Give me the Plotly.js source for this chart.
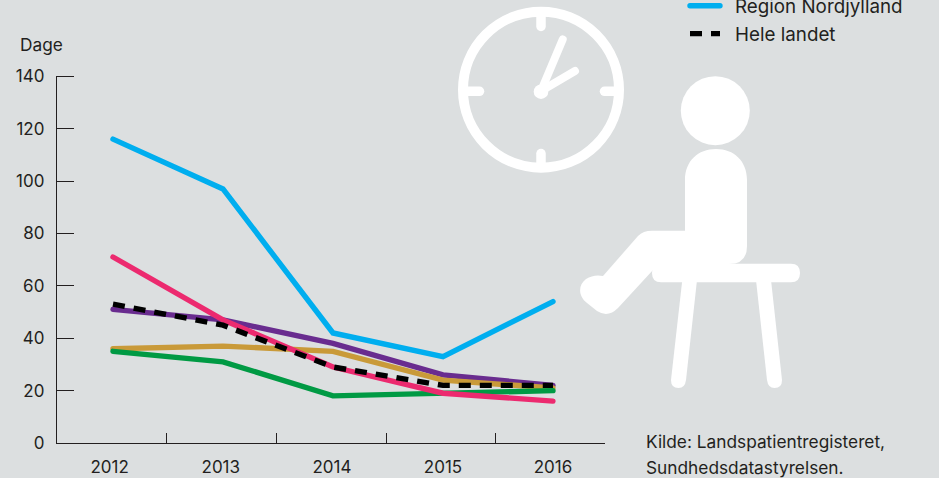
<!DOCTYPE html>
<html><head><meta charset="utf-8">
<script src="https://cdn.plot.ly/plotly-3.0.1.min.js"></script>
<style>
html,body{margin:0;padding:0;background:#dcdfe0;overflow:hidden}
.shapelayer path{stroke-linecap:round}
.scatterlayer .trace:not(:last-child) .js-line{stroke-linecap:round}
.legend .legendlines path{stroke-linecap:butt}
.legend .groups:first-of-type .legendlines path{stroke-linecap:round}
.legend .legendtext{transform:translateX(10px)}
.legend .scrollbox{clip-path:none}
</style></head><body>
<div id="chart" style="width:939px;height:478px"></div>
<script>
const W=939,H=478;
const years=[2012,2013,2014,2015,2016];
const yearLabels=['2012','2013','2014','2015','2016'];
const labelPositions=[2011.97,2012.98,2013.99,2015,2016];
const boundaryTicks=[2012.482,2013.482,2014.482,2015.482,2016.482];
const yTicks=[0,20,40,60,80,100,120,140];
const yTickMarks=[20,40,60,80,100,120,140];
const nordjylland=[116,97,42,33,54];
const purpleSeries=[51,47,38,26,22];
const goldSeries=[36,37,35,24,21];
const greenSeries=[35,31,18,19,20];
const pinkSeries=[71,47,29,19,16];
const heleLandet=[53,45,29,22,22];
const INK='#231f20', FONT='Inter, sans-serif';
const WHITE='#ffffff';

function line(name,y,color,show,dash){
  return {x:years,y:y,name:name,type:'scatter',mode:'lines',showlegend:show,legendgroup:name,
    hoverinfo:'skip',line:{color:color,width:5.4,dash:dash||'solid',shape:'linear'}};
}
const traces=[
  line('Region Nordjylland',nordjylland,'#00aeef',true),
  line('s2',purpleSeries,'#692c8f',false),
  line('s3',goldSeries,'#c99a39',false),
  line('s4',greenSeries,'#009a44',false),
  line('s5',pinkSeries,'#ec2a6f',false),
  line('Hele landet',heleLandet,'#000000',true,'12px,9px')
];

const fx=x=>x/W, fy=y=>1-y/H;
const pt=(x,y)=>fx(x)+' '+fy(y);
function circle(cx,cy,r,fill,lw){
  return {type:'circle',xref:'paper',yref:'paper',x0:fx(cx-r),x1:fx(cx+r),y0:fy(cy+r),y1:fy(cy-r),
    fillcolor:fill,line:{color:WHITE,width:lw||0},layer:'above'};
}
function stroke(x0,y0,x1,y1,w){
  return {type:'path',xref:'paper',yref:'paper',path:'M'+pt(x0,y0)+' L'+pt(x1,y1),
    line:{color:WHITE,width:w},layer:'above'};
}
function fill(d){
  const path=d.map(s=>s[0]+s.slice(1).map(p=>pt(p[0],p[1])).join(' ')).join(' ')+' Z';
  return {type:'path',xref:'paper',yref:'paper',path:path,fillcolor:WHITE,line:{width:0},layer:'above'};
}
const shapes=[
  circle(541,89.7,78,'rgba(0,0,0,0)',10),
  stroke(541,12,541,26.5,9.5),
  stroke(541,153.5,541,166,9.5),
  stroke(464,91.3,479.5,91.3,9.5),
  stroke(604.5,91.3,618,91.3,9.5),
  stroke(541,91,562.7,39.5,8),
  stroke(541,91,575,71,8),
  circle(541,91.7,7.3,WHITE),
  circle(715.3,110.7,34.5,WHITE),
  fill([['M',[685,180]],['C',[685,161],[698,149],[716,149]],['C',[734,149],[747,161],[747,180]],
    ['L',[747,246]],['Q',[747,264],[729,264]],['L',[653,270]],['L',[618,308]],
    ['Q',[608,318],[597,311]],['L',[587,303]],['C',[578,296],[578,285],[586,279]],
    ['Q',[594,274],[603,276]],['L',[638,236]],['Q',[643,230.7],[652,230.7]],['L',[685,230.7]]]),
  fill([['M',[661,263.7]],['L',[791,263.7]],['Q',[800,263.7],[800,273]],['Q',[800,282.3],[791,282.3]],
    ['L',[661,282.3]],['Q',[652,282.3],[652,273]],['Q',[652,263.7],[661,263.7]]]),
  fill([['M',[682.3,280]],['L',[697,280]],['L',[686,380]],['Q',[685,388],[678.5,388]],['Q',[671,388],[671,380]]]),
  fill([['M',[756,280]],['L',[771,280]],['L',[782,380]],['Q',[782,388],[774.5,388]],['Q',[768,388],[767,380]]])
];

const note=(text,x,y,anchor)=>({text:text,x:fx(x),y:fy(y),xref:'paper',yref:'paper',showarrow:false,
  xanchor:anchor||'left',yanchor:'middle',align:'left',font:{family:FONT,size:17.3,color:INK}});

const layout={
  width:W,height:H,margin:{l:0,r:0,t:0,b:0,autoexpand:false},
  paper_bgcolor:'#dcdfe0',plot_bgcolor:'rgba(0,0,0,0)',
  font:{family:FONT,size:16,color:INK},
  xaxis:{domain:[fx(57),fx(605)],range:[2011.491,2016.473],showgrid:false,zeroline:false,
    showline:true,linecolor:INK,linewidth:1.4,tickmode:'array',tickvals:labelPositions,ticktext:yearLabels,
    ticks:'',ticklabelstandoff:8,tickfont:{family:FONT,size:17,color:INK},
    minor:{tickmode:'array',tickvals:boundaryTicks,ticks:'inside',ticklen:10,tickwidth:1.3,tickcolor:INK,showgrid:false}},
  yaxis:{domain:[fy(443),fy(76.3)],range:[0,140],showgrid:false,zeroline:false,
    showline:true,linecolor:INK,linewidth:1.4,tickmode:'array',tickvals:yTicks,ticktext:yTicks.map(String),
    ticks:'',ticklabelstandoff:8,tickfont:{family:FONT,size:17,color:INK},
    minor:{tickmode:'array',tickvals:yTickMarks,ticks:'inside',ticklen:17,tickwidth:1.3,tickcolor:INK,showgrid:false}},
  showlegend:true,
  legend:{x:fx(685),y:fy(-13),xanchor:'left',yanchor:'top',bgcolor:'rgba(0,0,0,0)',borderwidth:0,
    tracegroupgap:0.5,itemwidth:30,traceorder:'grouped',font:{family:FONT,size:18.8,color:INK},itemclick:false,itemdoubleclick:false},
  shapes:shapes,
  annotations:[
    note('Dage',18,44),
    note('Kilde: Landspatientregisteret,',644,441),
    note('Sundhedsdatastyrelsen.',644,467)
  ]
};
Plotly.newPlot('chart',traces,layout,{displayModeBar:false,responsive:false});
</script></body></html>
